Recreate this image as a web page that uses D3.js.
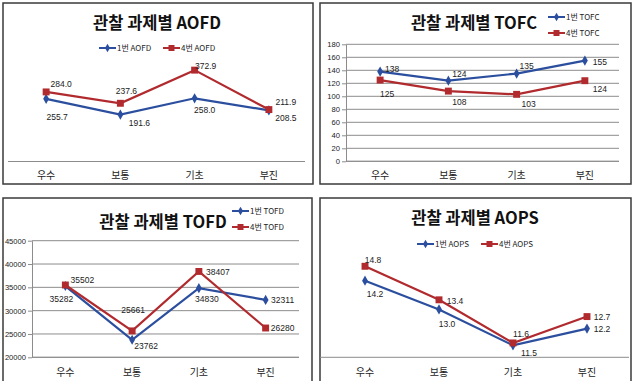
<!DOCTYPE html>
<html><head><meta charset="utf-8">
<script src="https://cdn.jsdelivr.net/npm/d3@7"></script>
<style>
html,body{margin:0;padding:0;background:#fff;}
svg{display:block;font-family:"Noto Sans CJK KR","Noto Sans",sans-serif;}
</style></head>
<body><svg id="c" width="635" height="381"></svg>
<script>
const categories = ["우수", "보통", "기초", "부진"];

const aofd1 = [255.7, 191.6, 258.0, 208.5];
const aofd4 = [284.0, 237.6, 372.9, 211.9];
const tofc1 = [138, 124, 135, 155];
const tofc4 = [125, 108, 103, 124];
const tofd1 = [35282, 23762, 34830, 32311];
const tofd4 = [35502, 25661, 38407, 26280];
const aops1 = [14.2, 13.0, 11.5, 12.2];
const aops4 = [14.8, 13.4, 11.6, 12.7];

const tofcTicks = [0, 20, 40, 60, 80, 100, 120, 140, 160, 180];
const tofdTicks = [20000, 25000, 30000, 35000, 40000, 45000];

const BLUE = "#2B4F9E", RED = "#B02A2E";
const svg = d3.select("#c");

function panel(cfg) {
  const g = svg.append("g");
  g.append("rect").attr("x", cfg.box[0]).attr("y", cfg.box[1])
    .attr("width", cfg.box[2]).attr("height", cfg.box[3])
    .attr("fill", "#fff").attr("stroke", "#3a3a3a").attr("stroke-width", 1.5);

  const x = d3.scaleBand().domain(categories).range(cfg.xr).padding(0);
  const cx = c => x(c) + x.bandwidth() / 2;
  const y = d3.scaleLinear().domain(cfg.domain).range(cfg.yr);

  if (cfg.ticks) {
    g.append("g").selectAll("line").data(cfg.ticks).join("line")
      .attr("x1", cfg.xr[0]).attr("x2", cfg.xr[1])
      .attr("y1", d => y(d)).attr("y2", d => y(d))
      .attr("stroke", "#8c8c8c").attr("stroke-width", 1);
    const ax = d3.axisLeft(y).tickValues(cfg.ticks).tickSize(4).tickSizeOuter(0)
      .tickFormat(d3.format("d"));
    const ag = g.append("g").attr("transform", `translate(${cfg.xr[0]},0)`).call(ax);
    ag.select(".domain").attr("stroke", "#8c8c8c");
    ag.selectAll(".tick line").attr("stroke", "#8c8c8c");
    ag.selectAll("text").attr("font-size", 7.6).attr("fill", "#222").attr("x", -6)
      .attr("font-family", "Liberation Sans, Arial, sans-serif");
  }
  g.append("line").attr("x1", cfg.axisLine[0]).attr("x2", cfg.axisLine[1])
    .attr("y1", y(cfg.domain[0])).attr("y2", y(cfg.domain[0]))
    .attr("stroke", "#8c8c8c").attr("stroke-width", 1);
  g.append("g").selectAll("text").data(categories).join("text")
    .attr("x", d => cx(d)).attr("y", cfg.catY).attr("text-anchor", "middle")
    .attr("font-size", 10).attr("fill", "#222").text(d => d);

  g.append("text").attr("x", cfg.title[1]).attr("y", cfg.title[2])
    .attr("text-anchor", "middle").attr("font-size", 16.5).attr("font-weight", "bold")
    .attr("fill", "#111").text(cfg.title[0]);

  const line = d3.line().x((d, i) => cx(categories[i])).y(d => y(d));
  const series = [
    { vals: cfg.s1, color: BLUE, name: cfg.names[0], marker: "diamond", off: cfg.off1 },
    { vals: cfg.s4, color: RED, name: cfg.names[1], marker: "square", off: cfg.off4 }
  ];
  series.forEach(s => {
    g.append("path").datum(s.vals).attr("d", line).attr("fill", "none")
      .attr("stroke", s.color).attr("stroke-width", 2.2);
  });
  series.forEach(s => {
    const sym = s.marker === "diamond"
      ? d3.symbol().type(d3.symbolDiamond).size(30)
      : d3.symbol().type(d3.symbolSquare).size(48);
    g.append("g").selectAll("path").data(s.vals).join("path")
      .attr("transform", (d, i) => `translate(${cx(categories[i])},${y(d)})`)
      .attr("d", sym).attr("fill", s.color);
    g.append("g").selectAll("text").data(s.vals).join("text")
      .attr("x", (d, i) => cx(categories[i]) + s.off[i][0])
      .attr("y", (d, i) => y(d) + s.off[i][1] + 3)
      .attr("text-anchor", "middle").attr("font-size", 8.5).attr("fill", "#222")
      .attr("font-family", "Liberation Sans, Arial, sans-serif")
      .text(d => cfg.fmt(d));
  });

  series.forEach((s, k) => {
    const L = cfg.legend[k];
    g.append("line").attr("x1", L[0]).attr("x2", L[0] + 17).attr("y1", L[1]).attr("y2", L[1])
      .attr("stroke", s.color).attr("stroke-width", 2);
    const sym = s.marker === "diamond"
      ? d3.symbol().type(d3.symbolDiamond).size(22)
      : d3.symbol().type(d3.symbolSquare).size(36);
    g.append("path").attr("transform", `translate(${L[0] + 8.5},${L[1]})`).attr("d", sym).attr("fill", s.color);
    g.append("text").attr("x", L[0] + 18).attr("y", L[1] + 3).attr("font-size", 8)
      .attr("fill", "#222").text(s.name);
  });
}

const f1 = d3.format(".1f"), f0 = d3.format("d");

panel({
  box: [3, 3, 310, 181], xr: [9, 306], domain: [0, 400], yr: [161.5, 63.5],
  axisLine: [8, 305], catY: 179, title: ["관찰 과제별 AOFD", 157, 29],
  s1: aofd1, s4: aofd4, names: ["1번 AOFD", "4번 AOFD"], fmt: f1,
  legend: [[99, 48], [163, 48]],
  off1: [[11, 18], [19, 8], [10, 12], [17, 8]],
  off4: [[15, -8], [6, -12], [11, -4], [17, -8]]
});

panel({
  box: [320, 3, 311, 181], xr: [346, 619], domain: [0, 180], yr: [161.3, 44.3],
  ticks: tofcTicks, axisLine: [346, 619], catY: 179, title: ["관찰 과제별 TOFC", 474, 29],
  s1: tofc1, s4: tofc4, names: ["1번 TOFC", "4번 TOFC"], fmt: f0,
  legend: [[548, 17], [548, 33]],
  off1: [[12, -3], [11, -7], [10, -8], [15, 1]],
  off4: [[7, 14], [11, 11], [12, 10], [15, 8]]
});

panel({
  box: [3, 198, 309, 190], xr: [32, 299], domain: [20000, 45000], yr: [357.3, 240.7],
  ticks: tofdTicks, axisLine: [32, 299], catY: 376, title: ["관찰 과제별 TOFD", 163, 228],
  s1: tofd1, s4: tofd4, names: ["1번 TOFD", "4번 TOFD"], fmt: f0,
  legend: [[232, 211], [232, 227]],
  off1: [[-4, 13], [14, 6], [8, 11], [17, 0]],
  off4: [[17, -5], [1, -21], [19, 1], [17, 0]]
});

panel({
  box: [320, 198, 311, 190], xr: [328, 624], domain: [11, 15], yr: [357.3, 261.5],
  axisLine: [320, 629], catY: 376, title: ["관찰 과제별 AOPS", 475, 224],
  s1: aops1, s4: aops4, names: ["1번 AOPS", "4번 AOPS"], fmt: f1,
  legend: [[417, 244], [481, 244]],
  off1: [[10, 13], [8, 15], [16, 8], [15, 0]],
  off4: [[8, -6], [16, 1], [8, -9], [15, 0]]
});
</script></body></html>
